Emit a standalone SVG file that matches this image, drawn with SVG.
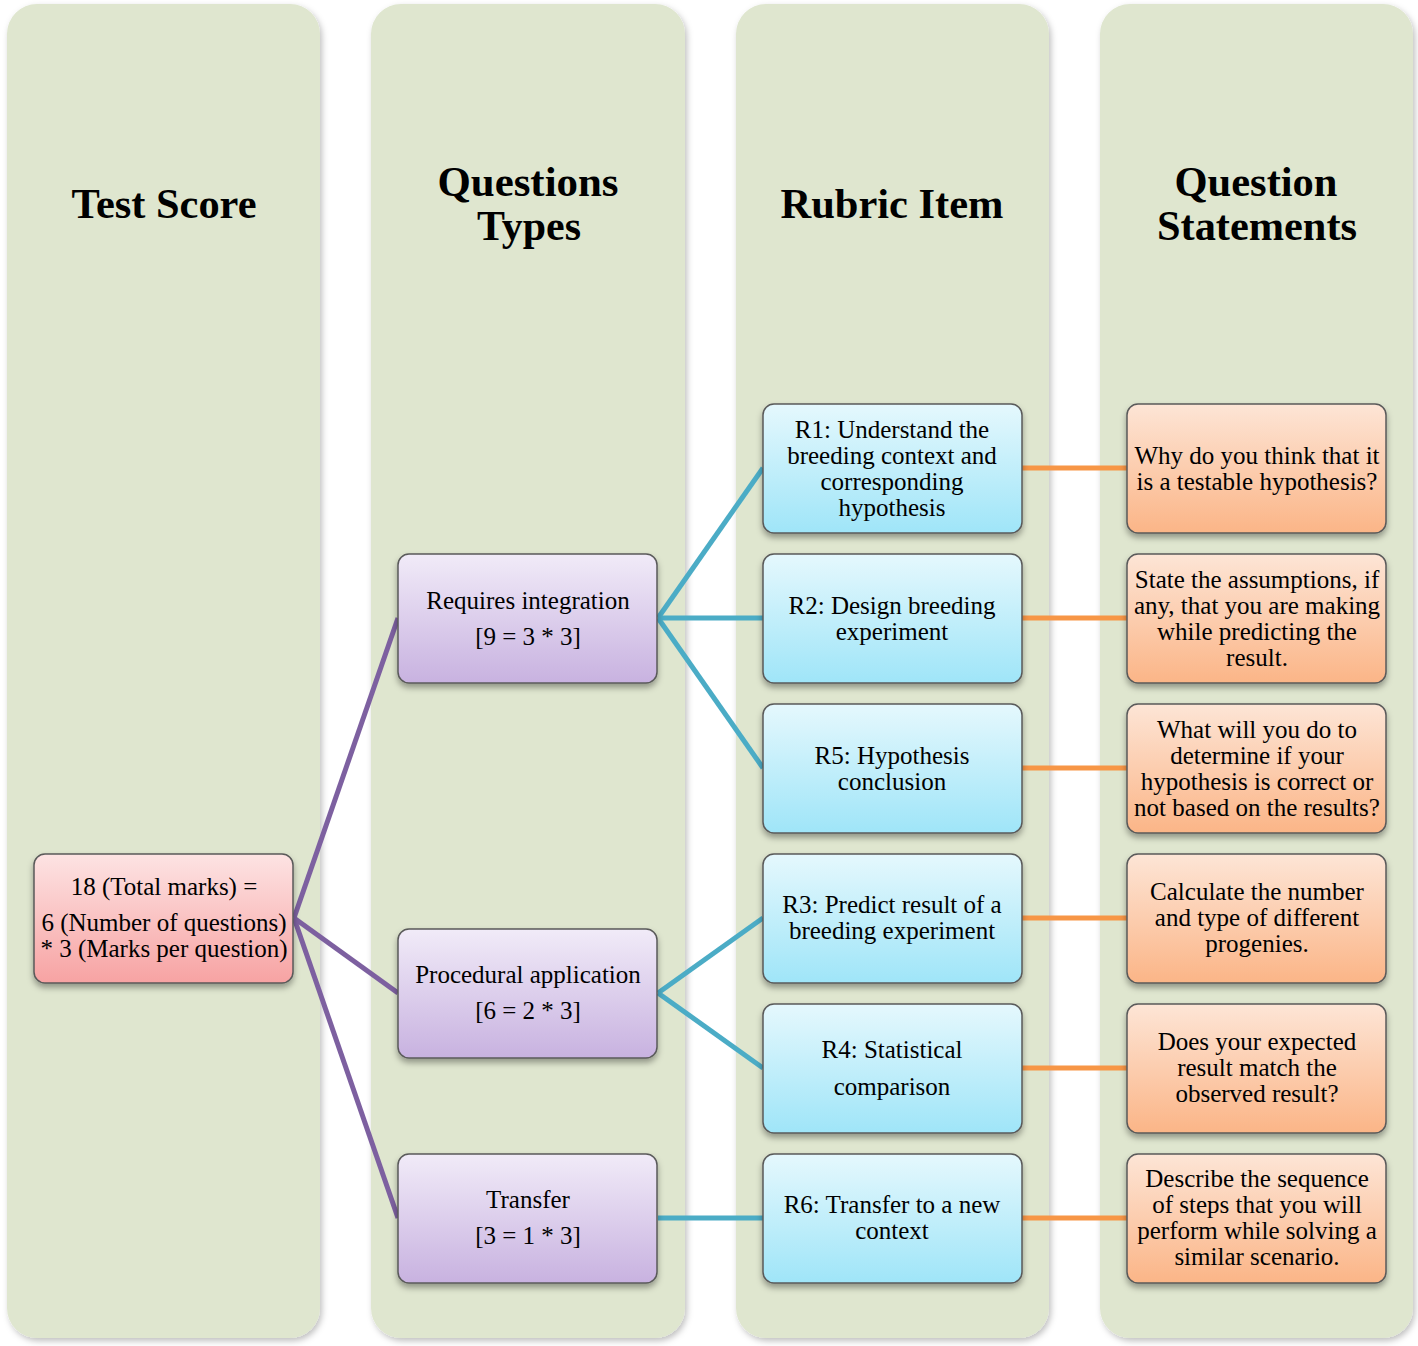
<svg xmlns="http://www.w3.org/2000/svg" width="1418" height="1346" viewBox="0 0 1418 1346">
<style>
.col{fill:#dfe6cf}
.node{stroke:#5a5a5a;stroke-width:1.5}
.title{font-family:"Liberation Serif","Times New Roman",serif;font-weight:bold;font-size:42px;fill:#000;text-anchor:middle}
.t{font-family:"Liberation Serif","Times New Roman",serif;font-size:25px;fill:#000;text-anchor:middle}
.cp{stroke:#7d60a0;stroke-width:5;fill:none}
.cb{stroke:#4bacc6;stroke-width:5;fill:none}
.co{stroke:#f79646;stroke-width:5;fill:none}
</style>
<defs>
<filter id="cs" x="-10%" y="-5%" width="120%" height="110%">
<feDropShadow dx="2" dy="3" stdDeviation="3" flood-color="#000" flood-opacity="0.25"/>
</filter>
<filter id="ns" x="-10%" y="-10%" width="120%" height="130%">
<feDropShadow dx="0" dy="4" stdDeviation="3" flood-color="#000" flood-opacity="0.35"/>
</filter>
<linearGradient id="gPink" x1="0" y1="0" x2="0" y2="1"><stop offset="0" stop-color="#fde3e3"/><stop offset="1" stop-color="#f7a3a3"/></linearGradient>
<linearGradient id="gPurp" x1="0" y1="0" x2="0" y2="1"><stop offset="0" stop-color="#f1ebf8"/><stop offset="1" stop-color="#c8b2e0"/></linearGradient>
<linearGradient id="gBlue" x1="0" y1="0" x2="0" y2="1"><stop offset="0" stop-color="#e5f8fd"/><stop offset="1" stop-color="#9fe5f8"/></linearGradient>
<linearGradient id="gOr" x1="0" y1="0" x2="0" y2="1"><stop offset="0" stop-color="#fde5d6"/><stop offset="1" stop-color="#fbb587"/></linearGradient>
</defs>
<rect width="1418" height="1346" fill="#fff"/>
<g id="columns">
<g id="col-score"><rect class="col" x="7" y="4" width="313" height="1334" rx="30" filter="url(#cs)"/>
<text class="title" x="164" y="218" textLength="185" lengthAdjust="spacingAndGlyphs">Test Score</text></g>
<g id="col-qtypes"><rect class="col" x="371" y="4" width="314" height="1334" rx="30" filter="url(#cs)"/>
<text class="title" x="528" y="196" textLength="181" lengthAdjust="spacingAndGlyphs">Questions</text>
<text class="title" x="529" y="240" textLength="104" lengthAdjust="spacingAndGlyphs">Types</text></g>
<g id="col-rubric"><rect class="col" x="736" y="4" width="313" height="1334" rx="30" filter="url(#cs)"/>
<text class="title" x="892" y="218" textLength="223" lengthAdjust="spacingAndGlyphs">Rubric Item</text></g>
<g id="col-statements"><rect class="col" x="1100" y="4" width="313" height="1334" rx="30" filter="url(#cs)"/>
<text class="title" x="1256" y="196" textLength="163" lengthAdjust="spacingAndGlyphs">Question</text>
<text class="title" x="1257" y="240" textLength="200" lengthAdjust="spacingAndGlyphs">Statements</text></g>
</g>
<g id="connectors">
<line class="cp" x1="294" y1="918" x2="398" y2="618"/>
<line class="cp" x1="294" y1="918" x2="398" y2="993"/>
<line class="cp" x1="294" y1="918" x2="398" y2="1218"/>
<line class="cb" x1="658" y1="618" x2="763" y2="468"/>
<line class="cb" x1="658" y1="618" x2="763" y2="618"/>
<line class="cb" x1="658" y1="618" x2="763" y2="768"/>
<line class="cb" x1="658" y1="993" x2="763" y2="918"/>
<line class="cb" x1="658" y1="993" x2="763" y2="1068"/>
<line class="cb" x1="658" y1="1218" x2="763" y2="1218"/>
<line class="co" x1="1022" y1="468" x2="1127" y2="468"/>
<line class="co" x1="1022" y1="618" x2="1127" y2="618"/>
<line class="co" x1="1022" y1="768" x2="1127" y2="768"/>
<line class="co" x1="1022" y1="918" x2="1127" y2="918"/>
<line class="co" x1="1022" y1="1068" x2="1127" y2="1068"/>
<line class="co" x1="1022" y1="1218" x2="1127" y2="1218"/>
</g>
<g id="score"><rect class="node" x="34" y="854" width="259" height="129" rx="11" fill="url(#gPink)" filter="url(#ns)"/>
<text class="t" x="164" y="895">18 (Total marks) =</text>
<text class="t" x="164" y="931">6 (Number of questions)</text>
<text class="t" x="164" y="957">* 3 (Marks per question)</text></g>
<g id="qt-integration"><rect class="node" x="398" y="554" width="259" height="129" rx="11" fill="url(#gPurp)" filter="url(#ns)"/>
<text class="t" x="528" y="609">Requires integration</text>
<text class="t" x="528" y="645">[9 = 3 * 3]</text></g>
<g id="qt-procedural"><rect class="node" x="398" y="929" width="259" height="129" rx="11" fill="url(#gPurp)" filter="url(#ns)"/>
<text class="t" x="528" y="983">Procedural application</text>
<text class="t" x="528" y="1019">[6 = 2 * 3]</text></g>
<g id="qt-transfer"><rect class="node" x="398" y="1154" width="259" height="129" rx="11" fill="url(#gPurp)" filter="url(#ns)"/>
<text class="t" x="528" y="1208">Transfer</text>
<text class="t" x="528" y="1244">[3 = 1 * 3]</text></g>
<g id="r1"><rect class="node" x="763" y="404" width="259" height="129" rx="11" fill="url(#gBlue)" filter="url(#ns)"/>
<text class="t" x="892" y="438">R1: Understand the</text>
<text class="t" x="892" y="464">breeding context and</text>
<text class="t" x="892" y="490">corresponding</text>
<text class="t" x="892" y="516">hypothesis</text></g>
<g id="r2"><rect class="node" x="763" y="554" width="259" height="129" rx="11" fill="url(#gBlue)" filter="url(#ns)"/>
<text class="t" x="892" y="614">R2: Design breeding</text>
<text class="t" x="892" y="640">experiment</text></g>
<g id="r5"><rect class="node" x="763" y="704" width="259" height="129" rx="11" fill="url(#gBlue)" filter="url(#ns)"/>
<text class="t" x="892" y="764">R5: Hypothesis</text>
<text class="t" x="892" y="790">conclusion</text></g>
<g id="r3"><rect class="node" x="763" y="854" width="259" height="129" rx="11" fill="url(#gBlue)" filter="url(#ns)"/>
<text class="t" x="892" y="913">R3: Predict result of a</text>
<text class="t" x="892" y="939">breeding experiment</text></g>
<g id="r4"><rect class="node" x="763" y="1004" width="259" height="129" rx="11" fill="url(#gBlue)" filter="url(#ns)"/>
<text class="t" x="892" y="1058">R4: Statistical</text>
<text class="t" x="892" y="1095">comparison</text></g>
<g id="r6"><rect class="node" x="763" y="1154" width="259" height="129" rx="11" fill="url(#gBlue)" filter="url(#ns)"/>
<text class="t" x="892" y="1213">R6: Transfer to a new</text>
<text class="t" x="892" y="1239">context</text></g>
<g id="s1"><rect class="node" x="1127" y="404" width="259" height="129" rx="11" fill="url(#gOr)" filter="url(#ns)"/>
<text class="t" x="1257" y="464">Why do you think that it</text>
<text class="t" x="1257" y="490">is a testable hypothesis?</text></g>
<g id="s2"><rect class="node" x="1127" y="554" width="259" height="129" rx="11" fill="url(#gOr)" filter="url(#ns)"/>
<text class="t" x="1257" y="588">State the assumptions, if</text>
<text class="t" x="1257" y="614">any, that you are making</text>
<text class="t" x="1257" y="640">while predicting the</text>
<text class="t" x="1257" y="666">result.</text></g>
<g id="s3"><rect class="node" x="1127" y="704" width="259" height="129" rx="11" fill="url(#gOr)" filter="url(#ns)"/>
<text class="t" x="1257" y="738">What will you do to</text>
<text class="t" x="1257" y="764">determine if your</text>
<text class="t" x="1257" y="790">hypothesis is correct or</text>
<text class="t" x="1257" y="816">not based on the results?</text></g>
<g id="s4"><rect class="node" x="1127" y="854" width="259" height="129" rx="11" fill="url(#gOr)" filter="url(#ns)"/>
<text class="t" x="1257" y="900">Calculate the number</text>
<text class="t" x="1257" y="926">and type of different</text>
<text class="t" x="1257" y="952">progenies.</text></g>
<g id="s5"><rect class="node" x="1127" y="1004" width="259" height="129" rx="11" fill="url(#gOr)" filter="url(#ns)"/>
<text class="t" x="1257" y="1050">Does your expected</text>
<text class="t" x="1257" y="1076">result match the</text>
<text class="t" x="1257" y="1102">observed result?</text></g>
<g id="s6"><rect class="node" x="1127" y="1154" width="259" height="129" rx="11" fill="url(#gOr)" filter="url(#ns)"/>
<text class="t" x="1257" y="1187">Describe the sequence</text>
<text class="t" x="1257" y="1213">of steps that you will</text>
<text class="t" x="1257" y="1239">perform while solving a</text>
<text class="t" x="1257" y="1265">similar scenario.</text></g>
</svg>
